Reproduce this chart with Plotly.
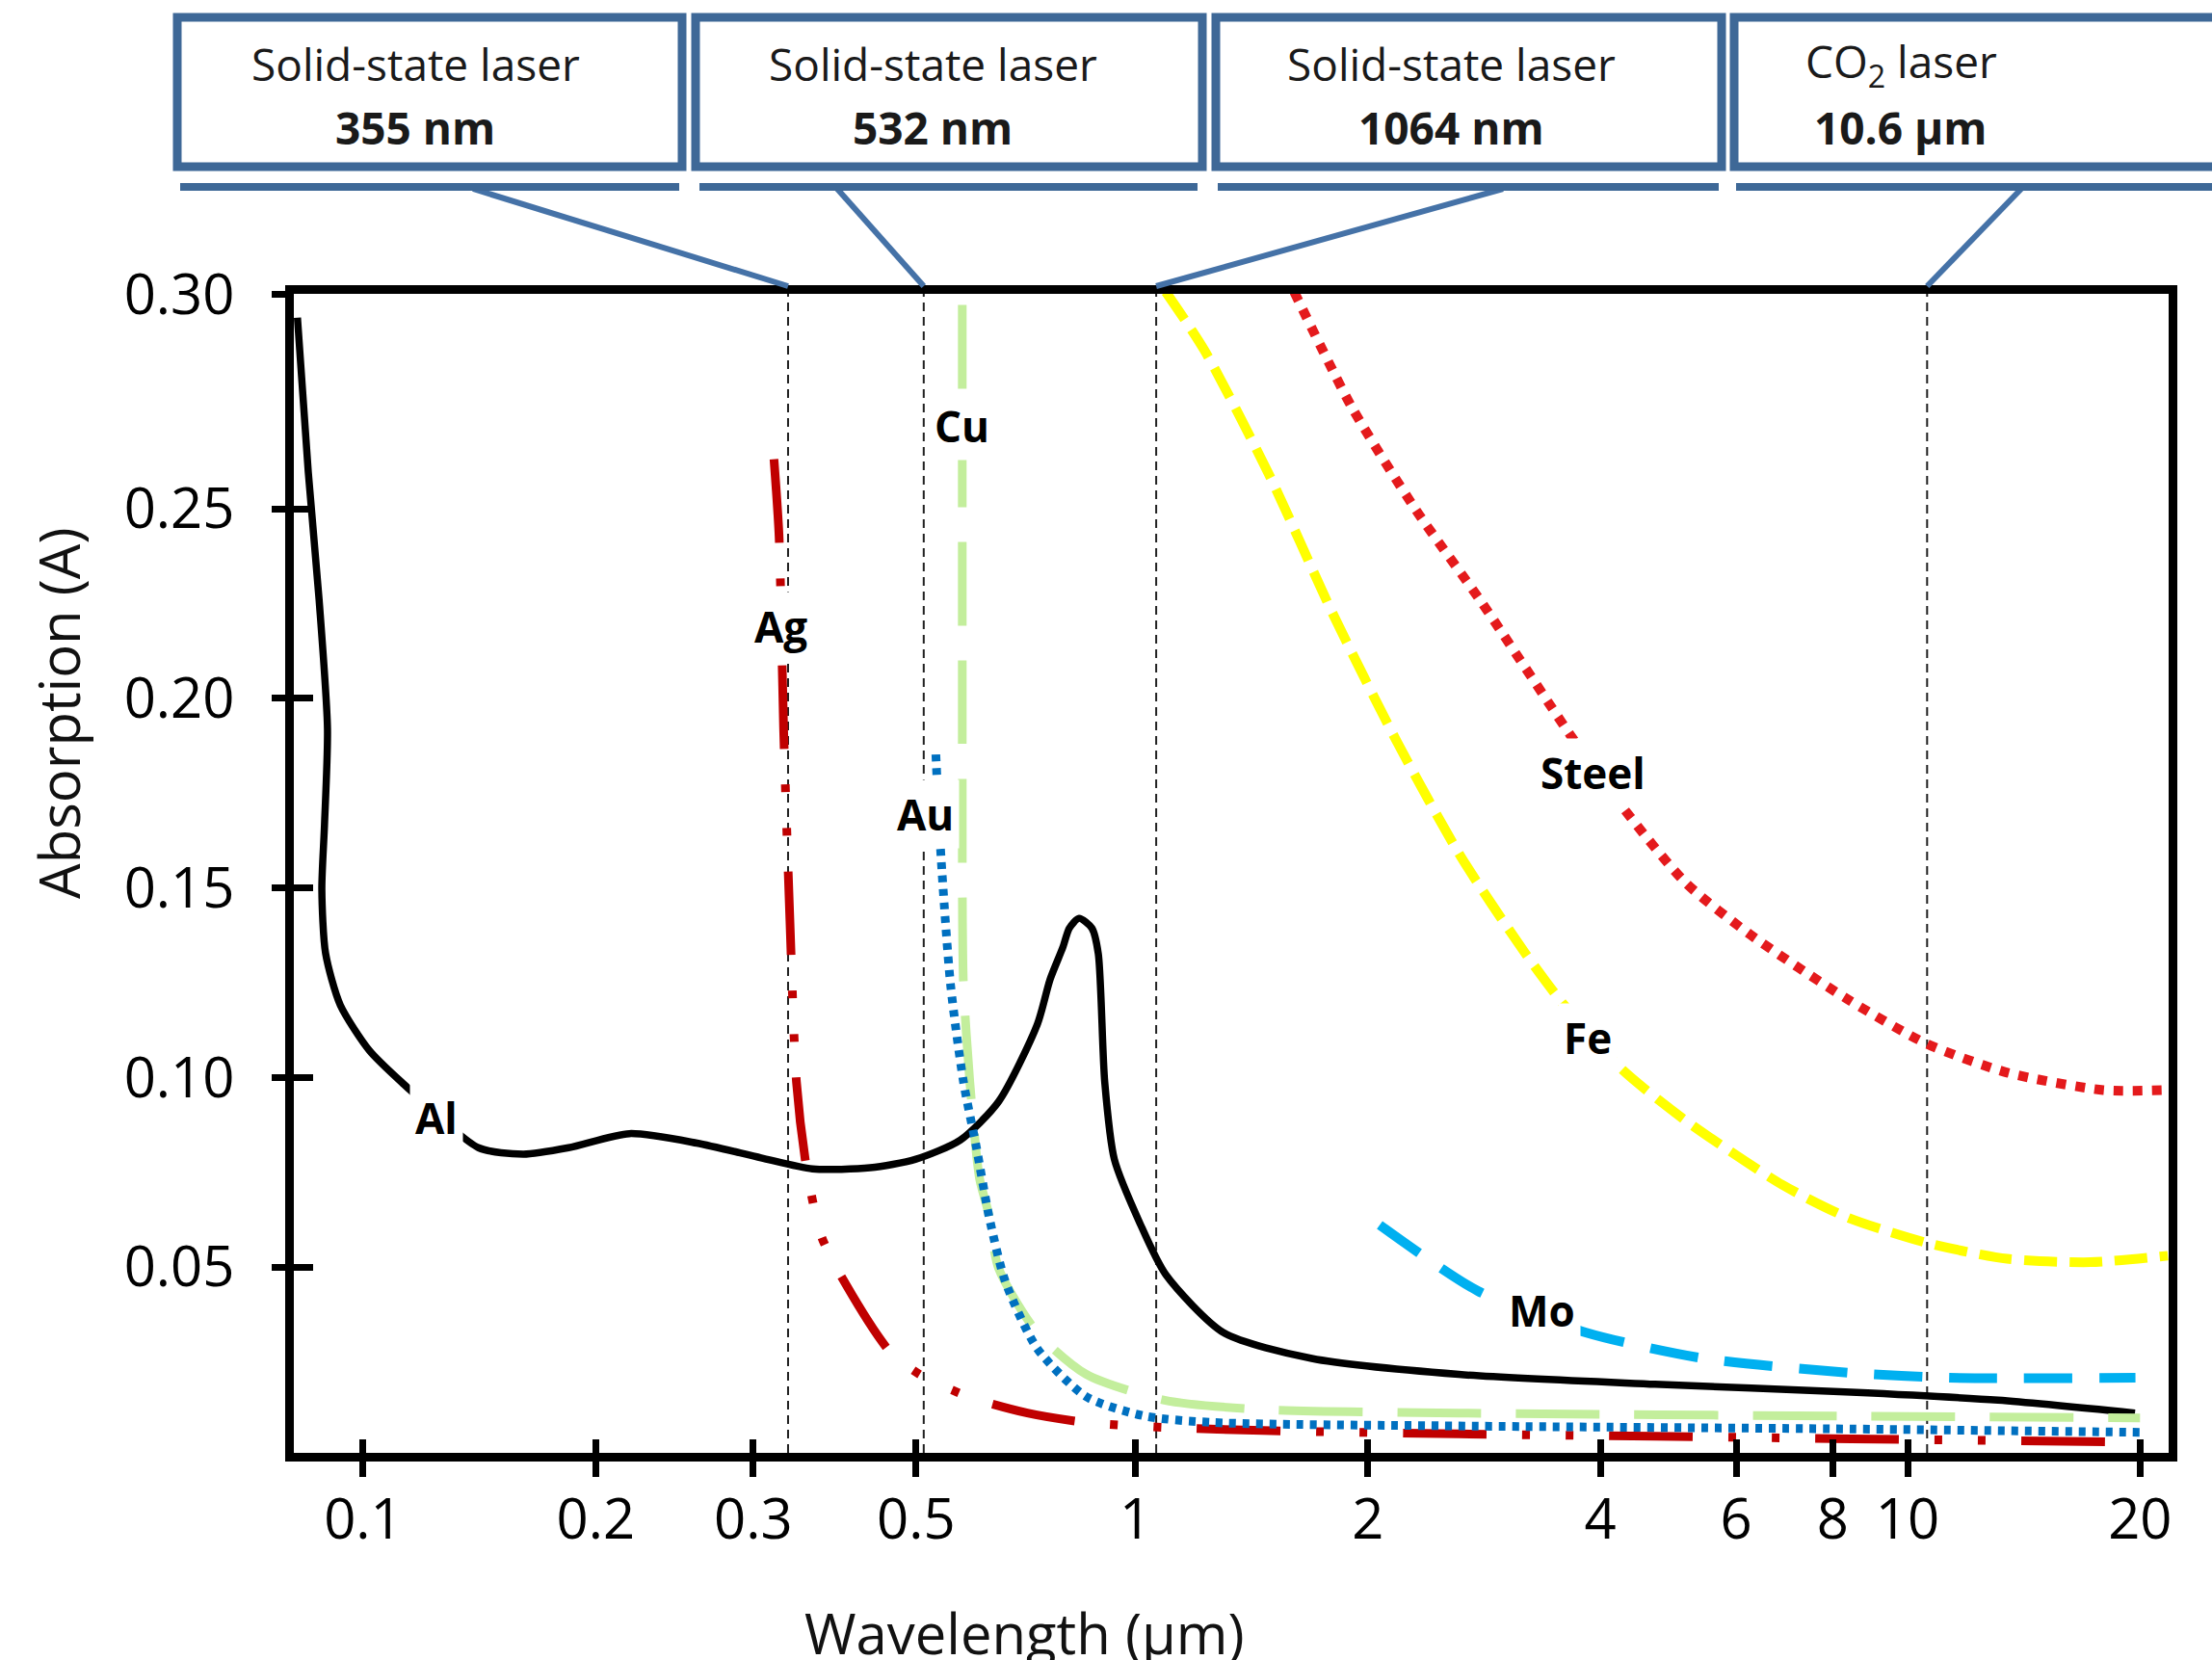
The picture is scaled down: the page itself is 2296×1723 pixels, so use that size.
import numpy as np
import plotly.graph_objects as go

# ---------------- data ----------------
AL_WL = [0.0822, 0.0849, 0.0877, 0.0899, 0.0891, 0.0884, 0.0894, 0.0934, 0.1018, 0.1121,
         0.1410, 0.1612, 0.1845, 0.2212, 0.2705, 0.3276, 0.3818, 0.4535, 0.5187, 0.5932,
         0.6653, 0.7464, 0.7755, 0.8057, 0.8213, 0.8454, 0.8784, 0.8953, 0.9127, 0.9393,
         1.014, 1.095, 1.301, 1.692, 2.623, 4.709, 8.45, 13.1, 19.7]
AL_A = [0.3004, 0.2597, 0.2258, 0.1920, 0.1665, 0.1496, 0.1327, 0.1191, 0.1072, 0.0988,
        0.0815, 0.0798, 0.0815, 0.0852, 0.0827, 0.0788, 0.0759, 0.0762, 0.0784, 0.0835,
        0.0937, 0.1140, 0.1259, 0.1344, 0.1394, 0.1420, 0.1394, 0.1327, 0.0988, 0.0784,
        0.0615, 0.0480, 0.0327, 0.0259, 0.0217, 0.0191, 0.0170, 0.0149, 0.0115]

AG_WL = [0.3404, 0.3456, 0.3503, 0.3570, 0.3640, 0.3747, 0.3921, 0.4219, 0.4814, 0.5255,
         0.6080, 0.7246, 0.8638, 1.091, 1.462, 2.623, 4.709, 8.45, 18.6]
AG_A = [0.2631, 0.2428, 0.1920, 0.1411, 0.0988, 0.0767, 0.0581, 0.0454, 0.0276, 0.0217,
        0.0158, 0.0115, 0.0090, 0.0077, 0.0069, 0.0060, 0.0054, 0.0047, 0.0039]

CU_WL = [0.5968, 0.5968, 0.5972, 0.5990, 0.6104, 0.6283, 0.6447, 0.6653, 0.7464, 0.864,
         1.091, 1.462, 2.62, 8.45, 20.0]
CU_A = [0.3038, 0.2089, 0.1411, 0.1242, 0.0988, 0.0734, 0.0646, 0.0496, 0.0327, 0.0217,
        0.0149, 0.0124, 0.0115, 0.0107, 0.0102]

AU_WL = [0.5516, 0.5602, 0.5765, 0.5990, 0.6222, 0.6466, 0.6783, 0.7464, 0.864, 1.029,
         1.263, 2.62, 8.45, 20.3]
AU_A = [0.1852, 0.1581, 0.1242, 0.0988, 0.0818, 0.0632, 0.0463, 0.0285, 0.0158, 0.0107,
        0.0090, 0.0081, 0.0073, 0.0064]

STEEL_WL = [1.606, 1.908, 2.310, 2.798, 3.659, 4.264, 5.164, 6.255, 8.337, 10.59, 13.46, 17.93, 21.73]
STEEL_A = [0.3072, 0.2767, 0.2496, 0.2258, 0.1903, 0.1716, 0.1513, 0.1377, 0.1208, 0.1089,
           0.1013, 0.0967, 0.0967]

FE_WL = [1.095, 1.228, 1.490, 1.801, 2.181, 2.642, 3.200, 3.591, 4.264, 5.164, 6.883, 8.337,
         10.59, 13.46, 17.26, 21.73]
FE_A = [0.3072, 0.2919, 0.2590, 0.2224, 0.1886, 0.1581, 0.1327, 0.1191, 0.1022, 0.0886,
        0.0717, 0.0632, 0.0564, 0.0522, 0.0513, 0.0530]

MO_WL = [2.072, 2.777, 3.837, 5.451, 8.45, 11.32, 19.73]
MO_A = [0.0611, 0.0437, 0.0327, 0.0259, 0.0221, 0.0208, 0.0208]

LABELS = ["Al", "Ag", "Cu", "Au", "Steel", "Fe", "Mo"]
LABEL_WL = [0.1245, 0.347, 0.5955, 0.5339, 3.913, 3.854, 3.365]
LABEL_A = [0.0895, 0.2191, 0.2719, 0.1694, 0.1804, 0.1106, 0.0386]

LASER_WL = [0.355, 0.532, 1.064, 10.6]
LASER_TYPE = ["Solid-state laser", "Solid-state laser", "Solid-state laser", "CO<sub>2</sub> laser"]
LASER_TEXT = ["355 nm", "532 nm", "1064 nm", "10.6 µm"]

X_TICK_POS = [0.1, 0.2, 0.32, 0.52, 1, 2, 4, 6, 8, 10, 20]
X_TICK_TEXT = ["0.1", "0.2", "0.3", "0.5", "1", "2", "4", "6", "8", "10", "20"]
Y_TICK_POS = [0.05, 0.10, 0.15, 0.20, 0.25, 0.3065]
Y_TICK_TEXT = ["0.05", "0.10", "0.15", "0.20", "0.25", "0.30"]

# ---------------- layout geometry ----------------
W, H = 2296, 1723
PL, PR, PT, PB = 305, 2251, 305, 1508
X_RANGE = [-1.0898, 1.3381]
Y_RANGE = [0.001, 0.3067]
FONT = "Open Sans"
BOXC = "#3E6897"
LINKC = "#4572A7"


def pxx(p):
    return (p - PL) / (PR - PL)


def pxy(p):
    return (PB - p) / (PB - PT)


def px_to_wl(p):
    return 10 ** (X_RANGE[0] + (p - PL) / (PR - PL) * (X_RANGE[1] - X_RANGE[0]))


series = [
    (AL_WL, AL_A, "black", 7.5, "solid"),
    (AG_WL, AG_A, "#C00000", 9, "87px,37px,8px,37px,8px,37px"),
    (CU_WL, CU_A, "#C3EE9C", 9, "87px,36px"),
    (AU_WL, AU_A, "#0070C0", 9, "7px,7px"),
    (STEEL_WL, STEEL_A, "#E41A1C", 10, "10px,10px"),
    (FE_WL, FE_A, "#FFFF00", 10, "34px,13px"),
    (MO_WL, MO_A, "#00B0F0", 10, "50px,28px"),
]

fig = go.Figure()
for wl, a, col, lw, dash in series:
    fig.add_trace(go.Scatter(
        x=wl, y=a, mode="lines",
        line=dict(color=col, width=lw, dash=dash, shape="spline", smoothing=0.7),
        showlegend=False, hoverinfo="skip"))

# empty trace to register the overlay axes (inner tick marks)
fig.add_trace(go.Scatter(x=[], y=[], xaxis="x2", yaxis="y2", showlegend=False))

shapes = []
# dashed laser wavelength lines
for w in LASER_WL:
    shapes.append(dict(type="line", xref="x", yref="paper", x0=w, x1=w, y0=0, y1=1,
                       line=dict(color="#222222", width=2, dash="9px,6px"), layer="below"))

# connectors from the underlines down to the laser lines
TOP_X = [491, 869, 1560, 2098]
for w, tx in zip(LASER_WL, TOP_X):
    shapes.append(dict(type="line", xref="x", yref="paper",
                       x0=w, x1=float(px_to_wl(tx)), y0=pxy(297), y1=pxy(196),
                       line=dict(color=LINKC, width=6), layer="above"))

# laser boxes and underlines
BOX_X = [(184, 708), (722, 1248), (1262, 1787), (1800, 2325)]
UL_X = [(187, 705), (726, 1243), (1264, 1784), (1802, 2320)]
for (x0, x1) in BOX_X:
    shapes.append(dict(type="rect", xref="paper", yref="paper",
                       x0=pxx(x0), x1=pxx(x1), y0=pxy(173), y1=pxy(18),
                       line=dict(color=BOXC, width=9), fillcolor="white", layer="above"))
for (x0, x1) in UL_X:
    shapes.append(dict(type="line", xref="paper", yref="paper",
                       x0=pxx(x0), x1=pxx(x1), y0=pxy(194), y1=pxy(194),
                       line=dict(color=BOXC, width=8), layer="above"))

annotations = []
TEXT_CX = [431, 968, 1506, 1973]
for cx, t1, t2 in zip(TEXT_CX, LASER_TYPE, LASER_TEXT):
    annotations.append(dict(xref="paper", yref="paper", x=pxx(cx), y=pxy(66),
                            xanchor="center", yanchor="middle", align="center",
                            text=t1, showarrow=False,
                            font=dict(family=FONT, size=46, color="#1a1a1a")))
    annotations.append(dict(xref="paper", yref="paper", x=pxx(cx), y=pxy(132),
                            xanchor="center", yanchor="middle", align="center",
                            text=f"<b>{t2}</b>", showarrow=False,
                            font=dict(family=FONT, size=46, color="#1a1a1a")))

# curve labels
for lab, w, a in zip(LABELS, LABEL_WL, LABEL_A):
    annotations.append(dict(xref="x", yref="y", x=float(np.log10(w)), y=a,
                            text=f"<b>{lab}</b>", showarrow=False, bgcolor="white",
                            borderpad=5, xanchor="center", yanchor="middle",
                            font=dict(family=FONT, size=44, color="black")))

# axis titles
annotations.append(dict(xref="paper", yref="paper", x=pxx(1063), y=pxy(1694),
                        text="Wavelength (µm)", showarrow=False, xanchor="center",
                        yanchor="middle", font=dict(family=FONT, size=58, color="#111")))
annotations.append(dict(xref="paper", yref="paper", x=pxx(60), y=pxy(740),
                        text="Absorption (A)", showarrow=False, textangle=-90,
                        xanchor="center", yanchor="middle",
                        font=dict(family=FONT, size=58, color="#111")))

tickfont = dict(family=FONT, size=58, color="black")
fig.update_layout(
    width=W, height=H, autosize=False,
    margin=dict(l=PL, r=W - PR, t=PT, b=H - PB, pad=0),
    paper_bgcolor="white", plot_bgcolor="white",
    font=dict(family=FONT, color="black"),
    xaxis=dict(type="log", range=X_RANGE, tickvals=X_TICK_POS, ticktext=X_TICK_TEXT,
               ticks="outside", ticklen=16, tickwidth=7, tickcolor="black",
               showline=True, linewidth=9, linecolor="black", mirror=True,
               showgrid=False, zeroline=False, tickfont=tickfont, ticklabelstandoff=-6),
    xaxis2=dict(type="log", range=X_RANGE, tickvals=X_TICK_POS, overlaying="x", anchor="y",
                side="bottom", ticks="inside", ticklen=14, tickwidth=7, tickcolor="black",
                showticklabels=False, showline=False, showgrid=False, zeroline=False),
    yaxis=dict(range=Y_RANGE, tickvals=Y_TICK_POS, ticktext=Y_TICK_TEXT,
               ticks="outside", ticklen=14, tickwidth=7, tickcolor="black",
               showline=True, linewidth=9, linecolor="black", mirror=True,
               showgrid=False, zeroline=False, tickfont=tickfont, ticklabelstandoff=27),
    yaxis2=dict(range=Y_RANGE, tickvals=Y_TICK_POS[:-1], overlaying="y", anchor="x",
                side="left", ticks="inside", ticklen=20, tickwidth=7, tickcolor="black",
                showticklabels=False, showline=False, showgrid=False, zeroline=False),
    shapes=shapes, annotations=annotations, showlegend=False,
)

fig.write_html("out.html")
